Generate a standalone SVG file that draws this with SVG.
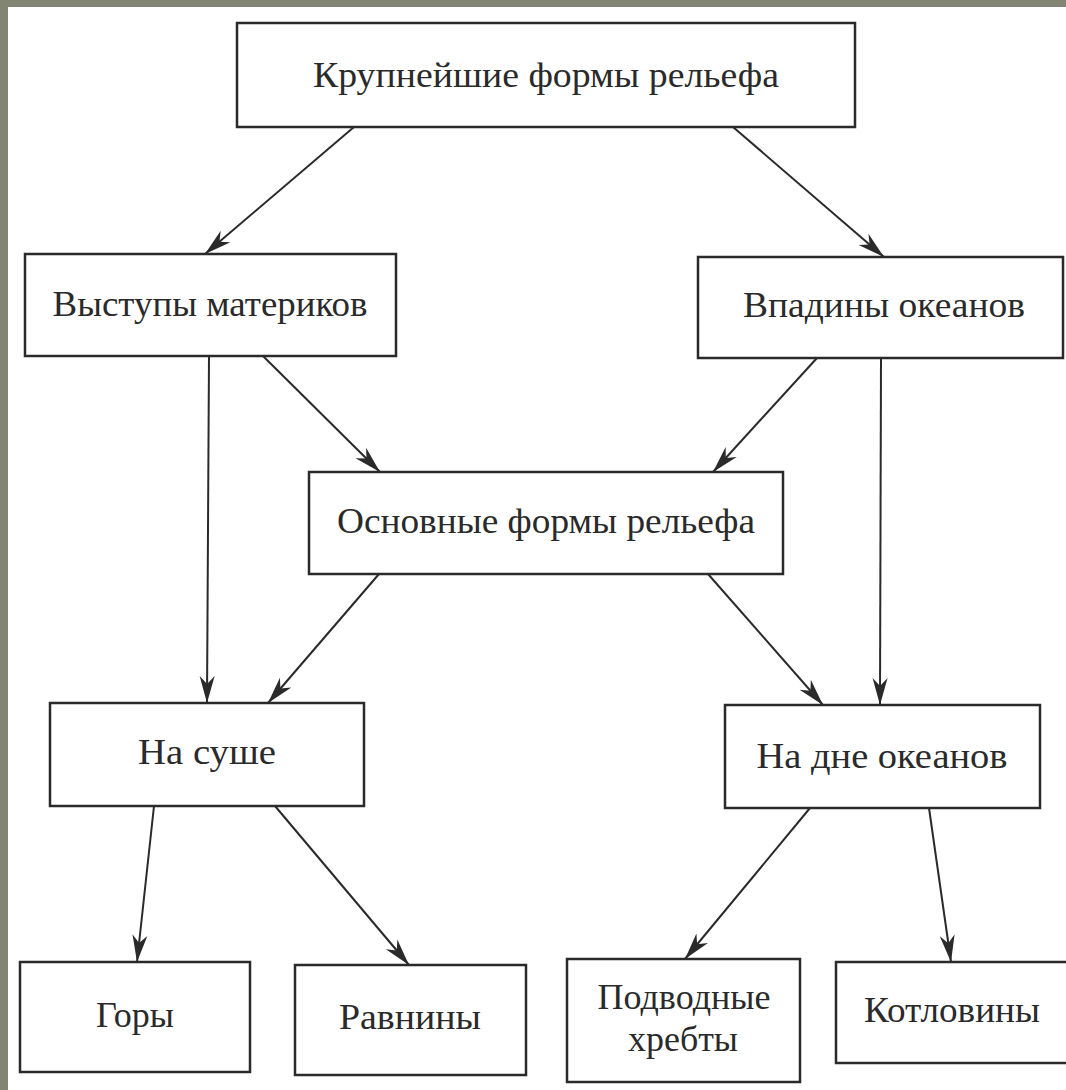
<svg xmlns="http://www.w3.org/2000/svg" width="1066" height="1090" viewBox="0 0 1066 1090">
<defs>
<style>
.box{fill:#fff;stroke:#2a2a2a;stroke-width:2.5}
.lbl{font-family:"Liberation Serif","DejaVu Serif",serif;font-size:36px;fill:#2a2a2a;text-anchor:middle}
.con{stroke:#2a2a2a;stroke-width:2;fill:none;marker-end:url(#ah)}
</style>
<marker id="ah" markerUnits="userSpaceOnUse" markerWidth="30" markerHeight="18" refX="27" refY="9" orient="auto">
<path d="M0,1.5 L27,9 L0,16.5 L8,9 Z" fill="#2a2a2a"/>
</marker>
</defs>
<rect x="0" y="0" width="1066" height="1090" fill="#828574"/>
<rect x="8" y="7" width="1058" height="1083" fill="#ffffff"/>

<g id="connectors">
<line class="con" x1="354" y1="127" x2="205" y2="254"/>
<line class="con" x1="733" y1="127" x2="884" y2="257"/>
<line class="con" x1="209" y1="356" x2="207" y2="703"/>
<line class="con" x1="263" y1="356" x2="380" y2="472"/>
<line class="con" x1="817" y1="358" x2="713" y2="472"/>
<line class="con" x1="881" y1="358" x2="880" y2="705"/>
<line class="con" x1="379" y1="574" x2="268" y2="703"/>
<line class="con" x1="708" y1="574" x2="823" y2="705"/>
<line class="con" x1="154" y1="806" x2="137" y2="962"/>
<line class="con" x1="275" y1="806" x2="409" y2="965"/>
<line class="con" x1="810" y1="808" x2="685" y2="959"/>
<line class="con" x1="929" y1="808" x2="951" y2="962"/>
</g>

<g id="n-krupneishie">
<rect class="box" x="237" y="23" width="618" height="104"/>
<text class="lbl" x="546" y="87" textLength="466" lengthAdjust="spacingAndGlyphs">Крупнейшие формы рельефа</text>
</g>
<g id="n-vystupy">
<rect class="box" x="25" y="254" width="371" height="102"/>
<text class="lbl" x="210" y="316" textLength="315" lengthAdjust="spacingAndGlyphs">Выступы материков</text>
</g>
<g id="n-vpadiny">
<rect class="box" x="698" y="257" width="365" height="101"/>
<text class="lbl" x="884" y="317" textLength="282" lengthAdjust="spacingAndGlyphs">Впадины океанов</text>
</g>
<g id="n-osnovnye">
<rect class="box" x="309" y="472" width="474" height="102"/>
<text class="lbl" x="546" y="533" textLength="418" lengthAdjust="spacingAndGlyphs">Основные формы рельефа</text>
</g>
<g id="n-na-sushe">
<rect class="box" x="50" y="703" width="314" height="103"/>
<text class="lbl" x="207" y="764" textLength="138" lengthAdjust="spacingAndGlyphs">На суше</text>
</g>
<g id="n-na-dne">
<rect class="box" x="725" y="705" width="315" height="103"/>
<text class="lbl" x="882" y="768" textLength="251" lengthAdjust="spacingAndGlyphs">На дне океанов</text>
</g>
<g id="n-gory">
<rect class="box" x="20" y="962" width="230" height="110"/>
<text class="lbl" x="135" y="1027" textLength="78" lengthAdjust="spacingAndGlyphs">Горы</text>
</g>
<g id="n-ravniny">
<rect class="box" x="295" y="965" width="231" height="110"/>
<text class="lbl" x="410" y="1029" textLength="142" lengthAdjust="spacingAndGlyphs">Равнины</text>
</g>
<g id="n-podvodnye">
<rect class="box" x="567" y="959" width="233" height="123"/>
<text class="lbl" x="684" y="1009" textLength="173" lengthAdjust="spacingAndGlyphs">Подводные</text>
<text class="lbl" x="683" y="1051" textLength="110" lengthAdjust="spacingAndGlyphs">хребты</text>
</g>
<g id="n-kotloviny">
<rect class="box" x="836" y="962" width="232" height="101"/>
<text class="lbl" x="952" y="1022" textLength="176" lengthAdjust="spacingAndGlyphs">Котловины</text>
</g>
</svg>
